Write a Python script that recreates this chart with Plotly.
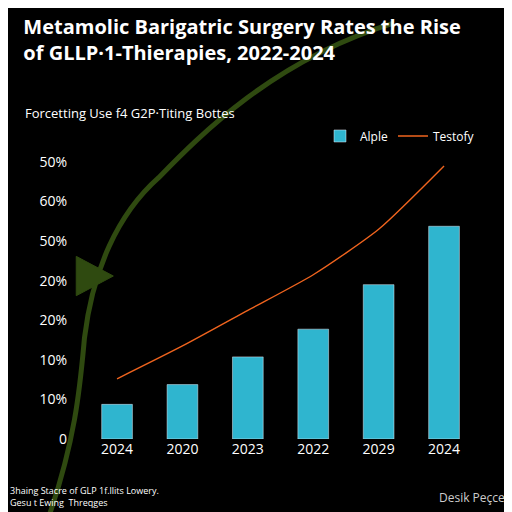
import plotly.graph_objects as go

positions = [0, 1, 2, 3, 4, 5]
year_labels = ["2024", "2020", "2023", "2022", "2029", "2024"]
alple = [0.875, 1.375, 2.075, 2.775, 3.9, 5.375]
testofy = [1.52, 2.35, 3.25, 4.15, 5.3, 6.9]
ytick_vals = [0, 1, 2, 3, 4, 5, 6, 7]
ytick_text = ["0", "10%", "10%", "20%", "20%", "50%", "60%", "50%"]

fig = go.Figure()
fig.add_trace(go.Bar(x=positions, y=alple, name="Alple", marker_color="#2fb5cf", width=0.47))
fig.add_trace(go.Scatter(x=positions, y=testofy, name="Testofy", mode="lines",
                         line=dict(color="#f0641e", width=1.4, shape="spline", smoothing=0.6)))

# decorative green arc
fig.add_shape(type="path", xref="paper", yref="paper", layer="below",
              path="M -0.05 -0.29 C 0.02 0.0, 0.03 0.2, 0.04 0.36 C 0.06 0.6, 0.12 0.8, 0.22 0.93 "
                   "C 0.32 1.08, 0.5 1.35, 0.79 1.48",
              line=dict(color="#2f4a10", width=5))
fig.add_shape(type="path", xref="paper", yref="paper", layer="below",
              path="M 0.02 0.65 L 0.11 0.58 L 0.02 0.51 Z",
              fillcolor="#2f4a10", line=dict(color="#2f4a10", width=1))

fig.update_layout(
    width=512, height=512,
    paper_bgcolor="black", plot_bgcolor="black",
    font=dict(family="Open Sans", color="white"),
    margin=dict(l=60, r=40, t=150, b=81),
    title=dict(text="<b>Metamolic Barigatric Surgery Rates the Rise<br>of GLLP·1-Thierapies, 2022-2024</b>",
               x=0.03, xanchor="left", y=0.95, yanchor="top",
               font=dict(size=20, color="white")),
    legend=dict(orientation="h", x=1.0, xanchor="right", y=1.13, yanchor="top",
                font=dict(size=12), bgcolor="rgba(0,0,0,0)"),
    showlegend=True,
)
fig.update_xaxes(tickvals=positions, ticktext=year_labels, range=[-0.75, 5.55],
                 showgrid=False, zeroline=False, tickfont=dict(size=14))
fig.update_yaxes(tickvals=ytick_vals, ticktext=ytick_text, range=[0, 7.1],
                 showgrid=False, zeroline=False, tickfont=dict(size=14), ticksuffix="  ")

fig.add_annotation(text="Forcetting Use f4 G2P·Titing Bottes", xref="paper", yref="paper",
                   x=-0.11, y=1.2, xanchor="left", showarrow=False, font=dict(size=13))
fig.add_annotation(text="3haing Stacre of GLP 1f.llits Lowery.<br>Gesu t Ewing  Threqges",
                   xref="paper", yref="paper", x=-0.145, y=-0.255, xanchor="left", yanchor="bottom",
                   align="left", showarrow=False, font=dict(size=9))
fig.add_annotation(text="Desik Peçce", xref="paper", yref="paper", x=1.065, y=-0.245,
                   xanchor="right", yanchor="bottom", showarrow=False,
                   font=dict(size=12, color="#cccccc"))

fig.write_html("out.html")
